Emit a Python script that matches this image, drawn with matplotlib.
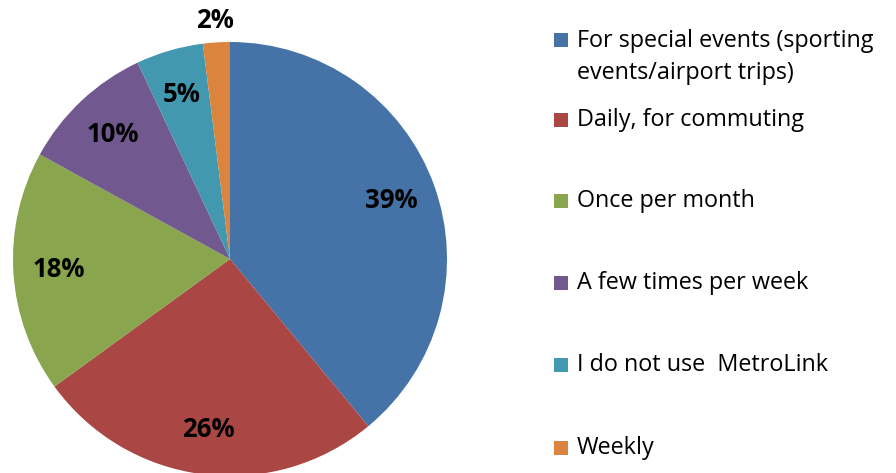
import matplotlib
matplotlib.use("Agg")
import matplotlib.pyplot as plt
from matplotlib.patches import Rectangle
import numpy as np

categories = ["For special events (sporting\nevents/airport trips)",
              "Daily, for commuting",
              "Once per month",
              "A few times per week",
              "I do not use  MetroLink",
              "Weekly"]
values = [39, 26, 18, 10, 5, 2]
colors = ["#4572A7", "#AA4643", "#89A54E", "#71588F", "#4198AF", "#DB843D"]

plt.rcParams['font.family'] = ['Open Sans', 'DejaVu Sans']

W, H = 896, 473
fig = plt.figure(figsize=(W / 100, H / 100), dpi=100)
cx, cy, r = 230, 259, 217
ax = fig.add_axes([(cx - r) / W, (H - cy - r) / H, 2 * r / W, 2 * r / H])
wedges, texts, autotexts = ax.pie(values, colors=colors, startangle=90, counterclock=False,
                                  autopct=lambda p: f"{p:.0f}%", pctdistance=0.79,
                                  radius=1, wedgeprops=dict(linewidth=0),
                                  textprops=dict(fontsize=18.5, fontweight='bold', color='black'))
ax.set_xlim(-1, 1)
ax.set_ylim(-1, 1)
ax.set_aspect('auto')
ax.axis('off')

# move the small slice label outside
w = wedges[-1]
ang = np.deg2rad((w.theta1 + w.theta2) / 2)
autotexts[-1].set_position((1.1 * np.cos(ang), 1.1 * np.sin(ang)))

# manual legend
row_y = [40, 120, 201, 283, 365, 448]
for lab, col, yy in zip(categories, colors, row_y):
    fig.patches.append(Rectangle((554 / W, (H - yy - 7) / H), 14 / W, 14 / H,
                                 transform=fig.transFigure, facecolor=col, edgecolor='none'))
    if '\n' in lab:
        fig.text(577 / W, (H - yy + 11) / H, lab, fontsize=16.8, va='top', ha='left',
                 color='black', linespacing=1.45)
    else:
        fig.text(577 / W, (H - yy) / H, lab, fontsize=16.8, va='center', ha='left',
                 color='black')

fig.savefig("out.png", dpi=100)
